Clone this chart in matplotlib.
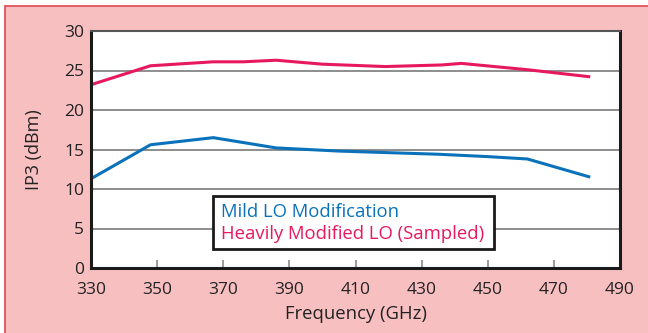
import matplotlib.pyplot as plt
from matplotlib.patches import Rectangle

plt.rcParams['font.family'] = ['Open Sans', 'DejaVu Sans']

freq_mild = [330, 348, 367, 386, 405, 420, 435, 450, 462, 481]
ip3_mild = [11.3, 15.6, 16.5, 15.2, 14.8, 14.6, 14.4, 14.1, 13.8, 11.5]

freq_heavy = [330, 348, 367, 376, 386, 400, 419, 436, 442, 462, 481]
ip3_heavy = [23.2, 25.6, 26.1, 26.1, 26.3, 25.8, 25.5, 25.7, 25.9, 25.1, 24.2]

x_ticks = [330, 350, 370, 390, 410, 430, 450, 470, 490]
y_ticks = [0, 5, 10, 15, 20, 25, 30]

blue = '#0A72BA'
red = '#E8185E'

fig = plt.figure(figsize=(6.48, 3.33), dpi=100)
fig.patch.set_facecolor('white')
bg = Rectangle((5 / 648, -0.05), 1.2, (333 - 6) / 333 + 0.05, transform=fig.transFigure,
               facecolor='#F8BFC1', edgecolor='#E0454F', linewidth=1.2, zorder=-5)
fig.patches.append(bg)

ax = fig.add_axes([91 / 648, 1 - 268 / 333, (620 - 91) / 648, (268 - 31) / 333])
ax.set_facecolor('white')

ax.plot(freq_mild, ip3_mild, color=blue, lw=2.2, solid_capstyle='butt')
ax.plot(freq_heavy, ip3_heavy, color=red, lw=2.2, solid_capstyle='butt')

ax.set_xlim(330, 490)
ax.set_ylim(0, 30)
ax.set_xticks(x_ticks)
ax.set_yticks(y_ticks)
ax.grid(axis='y', color='#858585', lw=1.3)
ax.set_axisbelow(True)

ax.tick_params(axis='x', direction='in', length=6, width=1.2, color='#8a8a8a',
               labelcolor='#222222', labelsize=12.5, pad=10)
ax.tick_params(axis='y', length=0, labelsize=12.5, pad=5, labelcolor='#222222')

for s in ['left', 'bottom', 'right']:
    ax.spines[s].set_linewidth(2.2)
    ax.spines[s].set_color('#1a1a1a')
ax.spines['top'].set_linewidth(1.5)
ax.spines['top'].set_color('#555555')

ax.set_xlabel('Frequency (GHz)', fontsize=13.3, color='#222222', labelpad=5)
ax.set_ylabel('IP3 (dBm)', fontsize=13, color='#222222', labelpad=15)

leg_box = Rectangle((367, 2.45), 85, 6.65, facecolor='white', edgecolor='#1a1a1a',
                    lw=2, zorder=3)
ax.add_patch(leg_box)
ax.text(369.2, 7.05, 'Mild LO Modification', color=blue, fontsize=13.3, va='center', zorder=4)
ax.text(369.2, 4.35, 'Heavily Modified LO (Sampled)', color=red, fontsize=13.3, va='center', zorder=4)

plt.savefig('out.png', dpi=100, facecolor=fig.get_facecolor())
